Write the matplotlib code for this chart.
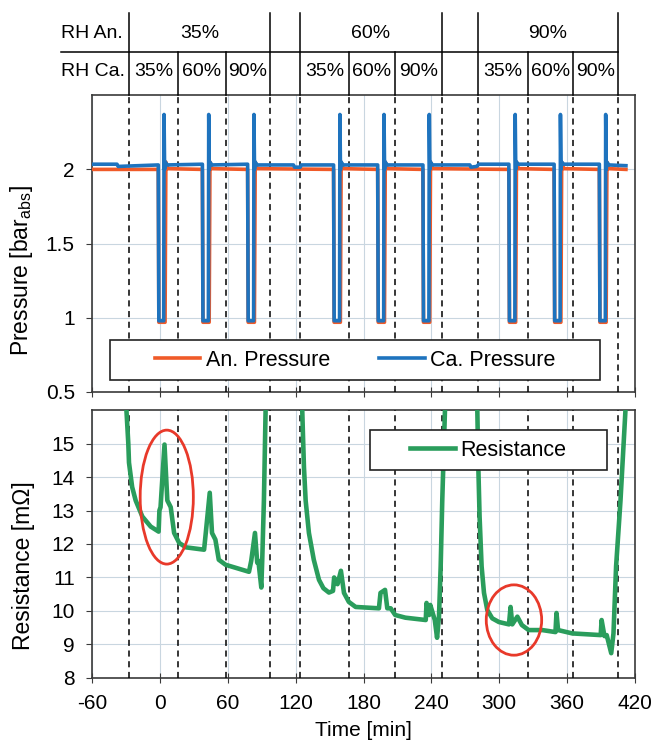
import matplotlib
matplotlib.use("Agg")
import matplotlib.pyplot as plt
import matplotlib.lines as mlines
import matplotlib.patches as mpatches
import matplotlib.transforms as mtransforms
from matplotlib.ticker import FuncFormatter

plt.rcParams["font.family"] = ["Liberation Sans", "DejaVu Sans"]
plt.rcParams["mathtext.fontset"] = "custom"
plt.rcParams["mathtext.rm"] = "Liberation Sans"
plt.rcParams["axes.unicode_minus"] = False

# ---- data ---------------------------------------------------------------
# boundaries of the RH steps [min]
step_edges = [-27, 16, 58, 97, 124, 167, 208, 249, 281, 325, 365, 405]
group_edge_idx = [0, 3, 4, 7, 8, 11]
rh_anode = ["35%", "60%", "90%"]
rh_cathode = ["35%", "60%", "90%"]

# anode pressure [bar_abs]
an_t = [-60, -1.5, -1, 4.5, 5.2, 7,
        37.5, 38, 43.5, 44.2, 46,
        77.5, 78, 83.5, 84.2, 86,
        153.5, 154, 159.5, 160.2, 162,
        192.5, 193, 198.5, 199.2, 201,
        232.5, 233, 238.5, 239.2, 241,
        308.5, 309, 314.5, 315.2, 317,
        348.5, 349, 354.5, 355.2, 357,
        388.5, 389, 394.5, 395.2, 397, 412]
an_p = [2.0, 2.0, 0.97, 0.97, 2.05, 2.005,
        2.0, 0.97, 0.97, 2.05, 2.005,
        2.0, 0.97, 0.97, 2.05, 2.005,
        2.0, 0.97, 0.97, 2.05, 2.005,
        2.0, 0.97, 0.97, 2.05, 2.005,
        2.0, 0.97, 0.97, 2.05, 2.005,
        2.0, 0.97, 0.97, 2.05, 2.005,
        2.0, 0.97, 0.97, 2.05, 2.005,
        2.0, 0.97, 0.97, 2.05, 2.005, 2.0]

# cathode pressure [bar_abs]
ca_t = [-60, -38, -37, -1.5, -1, 3.3, 3.6, 4.1, 4.6, 6.5,
        37.5, 38, 42.8, 43.1, 43.6, 44.1, 46,
        77.5, 78, 82.8, 83.1, 83.6, 84.1, 86,
        118, 119, 124, 125,
        153.5, 154, 158.8, 159.1, 159.6, 160.1, 162,
        192.5, 193, 197.8, 198.1, 198.6, 199.1, 201,
        232.5, 233, 237.8, 238.1, 238.6, 239.1, 241,
        274, 275, 280, 282,
        308.5, 309, 313.8, 314.1, 314.6, 315.1, 317,
        348.5, 349, 353.8, 354.1, 354.6, 355.1, 357,
        388.5, 389, 393.8, 394.1, 394.6, 395.1, 397, 412]
ca_p = [2.035, 2.035, 2.02, 2.03, 0.98, 0.98, 2.37, 2.0, 2.05, 2.03,
        2.035, 0.98, 0.98, 2.37, 2.0, 2.05, 2.03,
        2.035, 0.98, 0.98, 2.37, 2.0, 2.05, 2.03,
        2.03, 2.015, 2.015, 2.03,
        2.03, 0.98, 0.98, 2.37, 2.0, 2.05, 2.03,
        2.03, 0.98, 0.98, 2.37, 2.0, 2.05, 2.03,
        2.03, 0.98, 0.98, 2.37, 2.0, 2.05, 2.03,
        2.03, 2.015, 2.02, 2.035,
        2.035, 0.98, 0.98, 2.37, 2.0, 2.05, 2.035,
        2.035, 0.98, 0.98, 2.37, 2.0, 2.05, 2.035,
        2.035, 0.98, 0.98, 2.37, 2.0, 2.05, 2.03, 2.025]

# resistance [mOhm]
res_t = [-30.5, -28, -27.4, -24.6, -21.5, -15.6, -8.2, -1.2, -0.5, 0.5, 4, 6.5, 9.5,
         12.5, 17, 23, 39, 40.5, 44, 46, 49, 52, 58, 78.7, 80.7, 84, 86, 87,
         89.6, 90.4, 91.9, 93.4, 94.5,
         125, 125.8, 126.4, 127.3, 128.8, 131.7, 136, 140.6, 144.5, 149.4, 153, 154,
         157, 160, 162.7, 167, 173, 193.6, 195, 199, 201, 204, 208, 217, 235,
         235.7, 238, 239, 243, 245, 246.7, 248.2, 249.6, 252, 253,
         280, 280.6, 281.5, 282.6, 284.4, 286.5, 289.4, 293.8, 299.7, 308.6,
         310, 311.5, 316, 320, 326, 338, 349.7, 350.6, 352, 364.6, 389.7,
         390.5, 393, 395, 399, 401, 403.3, 407.2, 411.6, 413]
res_v = [16.5, 15.0, 14.43, 13.7, 13.3, 12.82, 12.52, 12.37, 13.0, 13.1, 14.97, 13.3, 13.1,
         12.33, 12.03, 11.9, 11.83, 12.33, 13.53, 12.33, 12.13, 11.53, 11.38, 11.17, 11.5,
         12.33, 11.44, 11.5,
         10.7, 11.5, 13.3, 16.0, 16.8,
         16.8, 16.0, 15.3, 14.3, 13.3, 12.33, 11.53, 10.93, 10.68, 10.55, 10.6, 11.0,
         10.8, 11.2, 10.54, 10.27, 10.12, 10.08, 10.54, 10.63, 10.08, 10.08, 9.88, 9.8, 9.73,
         10.24, 9.88, 10.18, 9.73, 9.2, 9.83, 11.33, 13.3, 16.0, 16.8,
         16.8, 16.0, 14.3, 12.82, 11.33, 10.54, 10.03, 9.78, 9.67, 9.6,
         10.12, 9.6, 9.83, 9.58, 9.43, 9.43, 9.37, 9.94, 9.43, 9.33, 9.28,
         9.73, 9.25, 9.28, 8.74, 9.33, 11.33, 13.3, 16.0, 16.8]

# highlighted regions (centre t, centre R, width, height)
circle_t = [6, 313]
circle_r = [13.4, 9.73]
circle_w = [47, 49]
circle_h = [4.0, 2.1]

# ---- style --------------------------------------------------------------
c_an = "#f05a28"
c_ca = "#1e73be"
c_res = "#2a9d5c"
c_grid = "#c9d6e0"
c_frame = "#3a3a3a"
fs_tick = 15
fs_ylab = 16.5
fs_leg = 15.5
fs_tab = 14

fig = plt.figure(figsize=(6.58, 7.42), dpi=100)
ax1 = fig.add_axes([0.140, 0.4717, 0.825, 0.400])
ax2 = fig.add_axes([0.140, 0.0863, 0.825, 0.3611])

for ax in (ax1, ax2):
    ax.set_xlim(-60, 420)
    ax.set_xticks(range(-60, 421, 60))
    ax.grid(True, color=c_grid, lw=0.8)
    ax.set_axisbelow(True)
    for s in ax.spines.values():
        s.set_color(c_frame)
        s.set_linewidth(1.2)
    ax.tick_params(labelsize=fs_tick, color=c_frame)
    ax.tick_params(axis="y", length=4.5, pad=8)
    ax.tick_params(axis="x", direction="inout", length=7, pad=8)
    for t in step_edges:
        ax.axvline(t, color="k", lw=1.1, ls=(0, (4, 3)), zorder=3)

# pressure
ax1.plot(an_t, an_p, color=c_an, lw=2.6, label="An. Pressure", zorder=4)
ax1.plot(ca_t, ca_p, color=c_ca, lw=2.6, label="Ca. Pressure", zorder=4)
ax1.set_ylim(0.5, 2.5)
ax1.set_yticks([0.5, 1, 1.5, 2])
ax1.yaxis.set_major_formatter(FuncFormatter(lambda v, p: f"{v:g}"))
ax1.tick_params(axis="x", labelbottom=False)
ax1.set_ylabel("Pressure [bar$_\\mathregular{abs}$]", fontsize=fs_ylab)
ax1.yaxis.set_label_coords(-0.105, 0.41)
ax1.add_patch(mpatches.Rectangle((0.033, 0.04), 0.903, 0.135, transform=ax1.transAxes,
                                 facecolor="white", edgecolor="#222222", lw=1.2, zorder=6))
leg1 = ax1.legend(loc="center", bbox_to_anchor=(0.4845, 0.1075), ncol=2, frameon=False,
                  fontsize=fs_leg, handlelength=2.1, handletextpad=0.25, columnspacing=2.3)
leg1.set_zorder(7)

# resistance
ax2.plot(res_t, res_v, color=c_res, lw=3.3, label="Resistance", zorder=4)
for ct, cr, cw, ch in zip(circle_t, circle_r, circle_w, circle_h):
    ax2.add_patch(mpatches.Ellipse((ct, cr), cw, ch, fill=False, edgecolor="#e8392a",
                                   lw=2, zorder=5))
ax2.set_ylim(8, 16)
ax2.set_yticks(range(8, 16))
ax2.set_ylabel("Resistance [m\u03a9]", fontsize=fs_ylab)
ax2.yaxis.set_label_coords(-0.105, 0.42)
ax2.set_xlabel("Time [min]", fontsize=15)
ax2.xaxis.set_label_coords(0.5, -0.16)
ax2.add_patch(mpatches.Rectangle((0.512, 0.776), 0.436, 0.149, transform=ax2.transAxes,
                                 facecolor="white", edgecolor="#222222", lw=1.2, zorder=6))
leg2 = ax2.legend(loc="center", bbox_to_anchor=(0.73, 0.85), frameon=False,
                  fontsize=fs_leg, handlelength=2.1, handletextpad=0.25)
leg2.set_zorder(7)

# RH table above the plots
trans = mtransforms.blended_transform_factory(ax1.transData, fig.transFigure)
y_top = 1 - 13 / 742
y_mid = 1 - 52 / 742
y_bot = 1 - 95 / 742
for i, t in enumerate(step_edges):
    y1 = y_top if i in group_edge_idx else y_mid
    fig.add_artist(mlines.Line2D([t, t], [y_bot, y1], transform=trans, color="k", lw=1.1))
fig.add_artist(mlines.Line2D([-87.5, step_edges[-1]], [y_mid, y_mid], transform=trans,
                             color="k", lw=1.1))

row1_y = 1 - 33 / 742
row2_y = 1 - 71 / 742
fig.text(-87.5, row1_y, "RH An.", transform=trans, fontsize=fs_tab, ha="left", va="center")
fig.text(-87.5, row2_y, "RH Ca.", transform=trans, fontsize=fs_tab, ha="left", va="center")
for g in range(3):
    a = step_edges[group_edge_idx[2 * g]]
    b = step_edges[group_edge_idx[2 * g + 1]]
    fig.text((a + b) / 2, row1_y, rh_anode[g], transform=trans, fontsize=fs_tab,
             ha="center", va="center")
    base = group_edge_idx[2 * g]
    for k in range(3):
        c = (step_edges[base + k] + step_edges[base + k + 1]) / 2
        fig.text(c, row2_y, rh_cathode[k], transform=trans, fontsize=fs_tab,
                 ha="center", va="center")

fig.savefig("out.png", dpi=100)
